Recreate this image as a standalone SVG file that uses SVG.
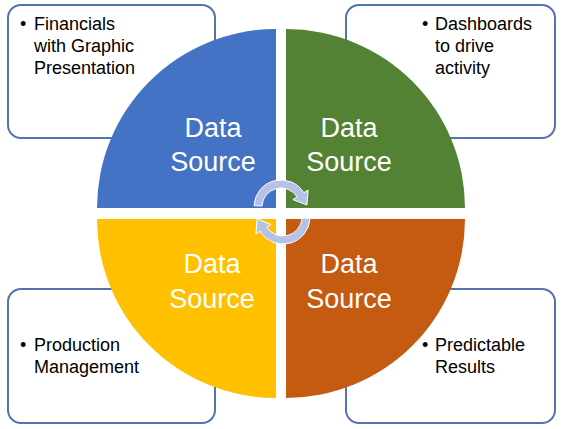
<svg xmlns="http://www.w3.org/2000/svg" width="571" height="429" viewBox="0 0 571 429">
<style>
.box{fill:#fff;stroke:#5274aa;stroke-width:2}
.bt{font-family:"Liberation Sans",Arial,sans-serif;font-size:18px;fill:#000}
.ds{font-family:"Liberation Sans",Arial,sans-serif;font-size:27px;fill:#fff;text-anchor:middle}
.arr{fill:#b5c1e6;stroke:#fff;stroke-width:1}
</style>
<rect width="571" height="429" fill="#fff"/>
<g id="box-financials">
<rect class="box" x="8" y="5" width="207" height="133" rx="13"/>
<text class="bt"><tspan x="20" y="30">•</tspan><tspan x="34" y="30">Financials</tspan><tspan x="34" y="52">with Graphic</tspan><tspan x="34" y="74">Presentation</tspan></text>
</g>
<g id="box-dashboards">
<rect class="box" x="346" y="5" width="209" height="133" rx="13"/>
<text class="bt"><tspan x="422" y="30">•</tspan><tspan x="435" y="30">Dashboards</tspan><tspan x="435" y="52">to drive</tspan><tspan x="435" y="74">activity</tspan></text>
</g>
<g id="box-production">
<rect class="box" x="8" y="289" width="207" height="134" rx="13"/>
<text class="bt"><tspan x="20" y="351">•</tspan><tspan x="34" y="351">Production</tspan><tspan x="34" y="373">Management</tspan></text>
</g>
<g id="box-predictable">
<rect class="box" x="346" y="289" width="209" height="134" rx="13"/>
<text class="bt"><tspan x="422" y="351">•</tspan><tspan x="435" y="351">Predictable</tspan><tspan x="435" y="373">Results</tspan></text>
</g>
<g id="q-blue">
<path d="M276,208 L97,208 A179,179 0 0 1 276,29 Z" fill="#4472c4"/>
<text class="ds"><tspan x="213" y="137">Data</tspan><tspan x="213" y="171">Source</tspan></text>
</g>
<g id="q-green">
<path d="M286,208 L286,29 A179,179 0 0 1 465,208 Z" fill="#548235"/>
<text class="ds"><tspan x="349" y="137">Data</tspan><tspan x="349" y="171">Source</tspan></text>
</g>
<g id="q-yellow">
<path d="M276,219 L276,398 A179,179 0 0 1 97,219 Z" fill="#ffc000"/>
<text class="ds"><tspan x="212" y="273">Data</tspan><tspan x="212" y="308">Source</tspan></text>
</g>
<g id="q-orange">
<path d="M286,219 L465,219 A179,179 0 0 1 286,398 Z" fill="#c55a11"/>
<text class="ds"><tspan x="349" y="273">Data</tspan><tspan x="349" y="308">Source</tspan></text>
</g>
<g id="connectors">
<path id="arrow-top" class="arr" d="M254,205.6 A27,27 0 0 1 303.9,192.7 L308.1,190 L306.9,205 L292.9,199.6 L297.1,196.9 A19,19 0 0 0 262,206 Z"/>
<path id="arrow-bottom" class="arr" transform="rotate(180 282 212)" d="M254,205.6 A27,27 0 0 1 303.9,192.7 L308.1,190 L306.9,205 L292.9,199.6 L297.1,196.9 A19,19 0 0 0 262,206 Z"/>
</g>
</svg>
